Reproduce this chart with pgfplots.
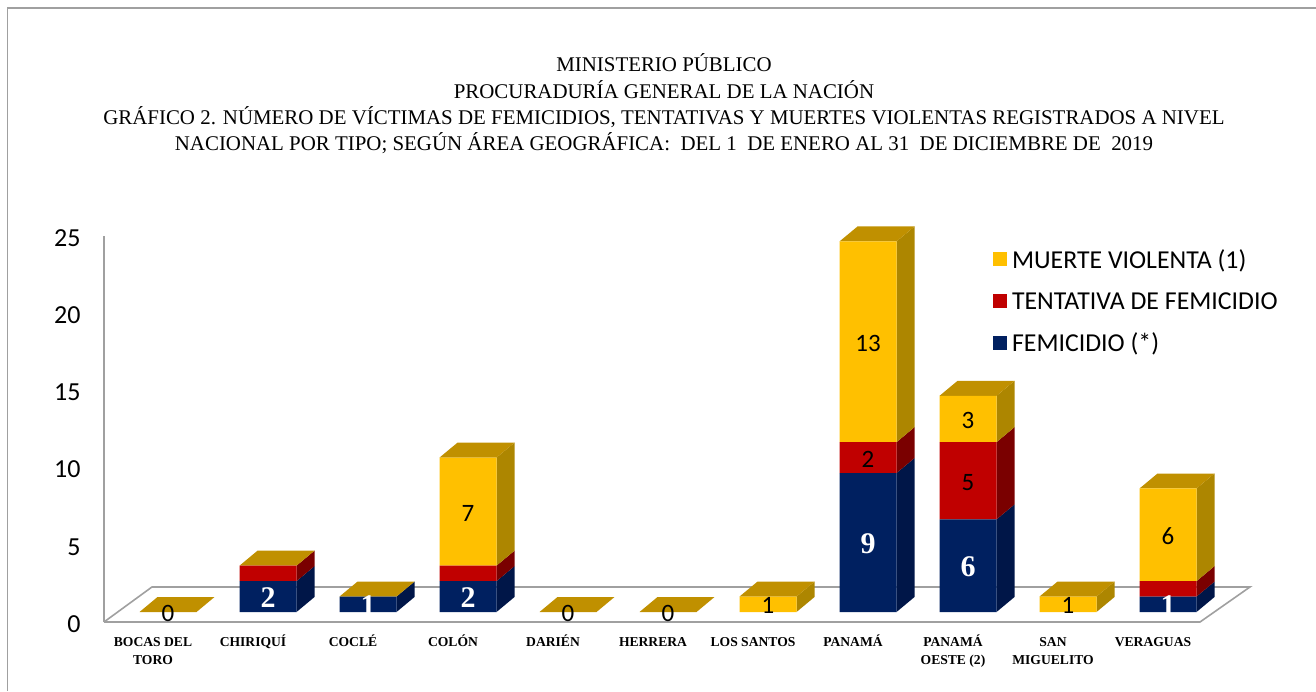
\documentclass[border=0pt]{standalone}
\usepackage{fontspec}
\usepackage{pgfplots}
\usepackage{pgfplotstable}
\pgfplotsset{compat=1.18}
\setmainfont{Carlito}
\newfontfamily\titlefont{Liberation Serif}

\definecolor{fem}{HTML}{002060}
\definecolor{femside}{HTML}{001648}
\definecolor{ten}{HTML}{C00000}
\definecolor{tenside}{HTML}{7A0000}
\definecolor{mv}{HTML}{FFC000}
\definecolor{mvside}{HTML}{AD8600}
\definecolor{topface}{HTML}{C09000}
\definecolor{linea}{HTML}{A0A0A0}

% x fem ten mv
\pgfplotstableread{
x fem ten mv
0 0 0 0
1 2 1 0
2 1 0 0
3 2 1 7
4 0 0 0
5 0 0 0
6 0 0 1
7 9 2 13
8 6 5 3
9 0 0 1
10 1 1 6
}\datos

% label positions: middle of each segment
\pgfplotstableread{
x y label
1 1 2
2 0.5 1
3 1 2
7 4.5 9
8 3 6
10 0.5 1
}\blancos
\pgfplotstableread{
x y label
0 0 0
3 6.5 7
4 0 0
5 0 0
6 0.5 1
7 10 2
7 17.5 13
8 8.5 5
8 12.5 3
9 0.5 1
10 5 6
}\negros

% side face: x, y0, y1, colour
\newcommand{\lado}[4]{%
  \pgfmathsetmacro\xa{#1+0.285}%
  \pgfmathsetmacro\xb{#1+0.465}%
  \pgfmathsetmacro\ya{#2+0.97}%
  \pgfmathsetmacro\yb{#3+0.97}%
  \addplot[fill=#4,draw=none] coordinates {(\xa,#2)(\xb,\ya)(\xb,\yb)(\xa,#3)} -- cycle;
}
% top face: x, y
\newcommand{\tapa}[2]{%
  \pgfmathsetmacro\xa{#1-0.285}%
  \pgfmathsetmacro\xb{#1+0.285}%
  \pgfmathsetmacro\xc{#1+0.465}%
  \pgfmathsetmacro\xd{#1-0.105}%
  \pgfmathsetmacro\ya{#2+0.97}%
  \addplot[fill=topface,draw=none] coordinates {(\xa,#2)(\xb,#2)(\xc,\ya)(\xd,\ya)} -- cycle;
}

\pgfplotsset{
  base/.style={
    scale only axis, width=1146pt, height=386pt,
    xmin=-0.64, xmax=10.82, ymin=0, ymax=25,
    clip=false, anchor=south west,
  },
  capa/.style={base, at={(104pt,79pt)}, hide axis},
}

\begin{document}
\begin{tikzpicture}
\useasboundingbox (0pt,0pt) rectangle (1316pt,691pt);
\draw[linea,line width=1.6pt] (7.5pt,0pt) -- (7.5pt,683pt) -- (1316pt,683pt);

\node[align=center,font=\titlefont\fontsize{20.9}{26.4}\selectfont] at (664pt,587pt) {%
  MINISTERIO PÚBLICO\\
  PROCURADURÍA GENERAL DE LA NACIÓN\\
  GRÁFICO 2. NÚMERO DE VÍCTIMAS DE FEMICIDIOS, TENTATIVAS Y MUERTES VIOLENTAS REGISTRADOS A NIVEL\\
  NACIONAL POR TIPO; SEGÚN ÁREA GEOGRÁFICA:\ \ DEL 1\ \ DE ENERO AL 31\ \ DE DICIEMBRE DE\ \ 2019};

% axis, ticks and floor
\begin{axis}[base, at={(104pt,69pt)},
    axis lines=left,
    axis line style={-,linea,line width=1.6pt},
    x axis line style={draw=none},
    ytick={0,5,10,15,20,25},
    xtick={0,1,2,3,4,5,6,7,8,9,10},
    xticklabels={{\strut BOCAS DEL\\TORO},\strut CHIRIQUÍ,\strut COCLÉ,\strut COLÓN,\strut DARIÉN,\strut HERRERA,\strut LOS SANTOS,\strut PANAMÁ,{\strut PANAMÁ\\OESTE (2)},{\strut SAN\\MIGUELITO},\strut VERAGUAS},
    major tick length=0pt,
    xticklabel style={align=center,anchor=north,xshift=-15pt,yshift=-8pt,
      font=\titlefont\bfseries\fontsize{13.6}{18}\selectfont},
    yticklabel style={font=\fontsize{26}{26}\selectfont,xshift=-20pt,yshift=-2pt},
    /pgf/number format/assume math mode=true,
]
\addplot[linea,line width=1.6pt] coordinates {(-0.64,0)(-0.16,2.27)(10.82,2.27)(10.32,0)(-0.64,0)};
\end{axis}

% depth of the bars
\begin{axis}[capa]
\lado{1}{0}{2}{femside}\lado{1}{2}{3}{tenside}\tapa{1}{3}
\lado{2}{0}{1}{femside}\tapa{2}{1}
\lado{3}{0}{2}{femside}\lado{3}{2}{3}{tenside}\lado{3}{3}{10}{mvside}\tapa{3}{10}
\tapa{0}{0}\tapa{4}{0}\tapa{5}{0}
\lado{6}{0}{1}{mvside}\tapa{6}{1}
\lado{7}{0}{9}{femside}\lado{7}{9}{11}{tenside}\lado{7}{11}{24}{mvside}\tapa{7}{24}
\lado{8}{0}{6}{femside}\lado{8}{6}{11}{tenside}\lado{8}{11}{14}{mvside}\tapa{8}{14}
\lado{9}{0}{1}{mvside}\tapa{9}{1}
\lado{10}{0}{1}{femside}\lado{10}{1}{2}{tenside}\lado{10}{2}{8}{mvside}\tapa{10}{8}
\end{axis}

% front faces
\begin{axis}[capa, ybar stacked, bar width=57pt,
    reverse legend,
    legend style={at={(0.773,0.95)},anchor=north west,draw=none,fill=none,
      font=\fontsize{25.8}{30}\selectfont,row sep=18.5pt,
      /tikz/every node/.append style={inner xsep=1pt}},
    legend cell align=left,
    legend image code/.code={\fill[#1] (0pt,-6.5pt) rectangle (14pt,7.5pt);\path (18pt,0pt);},
]
\addplot[fill=fem,draw=none] table[x=x,y=fem] {\datos};
\addplot[fill=ten,draw=none] table[x=x,y=ten] {\datos};
\addplot[fill=mv,draw=none] table[x=x,y=mv] {\datos};
\legend{FEMICIDIO (*),TENTATIVA DE FEMICIDIO,MUERTE VIOLENTA (1)}
\end{axis}

% data labels
\begin{axis}[capa]
\addplot[only marks,mark=none,point meta=explicit symbolic,nodes near coords,
  every node near coord/.style={anchor=center,text=white,yshift=-1.5pt,
    font=\titlefont\bfseries\fontsize{30}{30}\selectfont}]
  table[x=x,y=y,meta=label] {\blancos};
\addplot[only marks,mark=none,point meta=explicit symbolic,nodes near coords,
  every node near coord/.style={anchor=center,text=black,yshift=-1.5pt,
    font=\fontsize{25}{25}\selectfont}]
  table[x=x,y=y,meta=label] {\negros};
\end{axis}
\end{tikzpicture}
\end{document}
